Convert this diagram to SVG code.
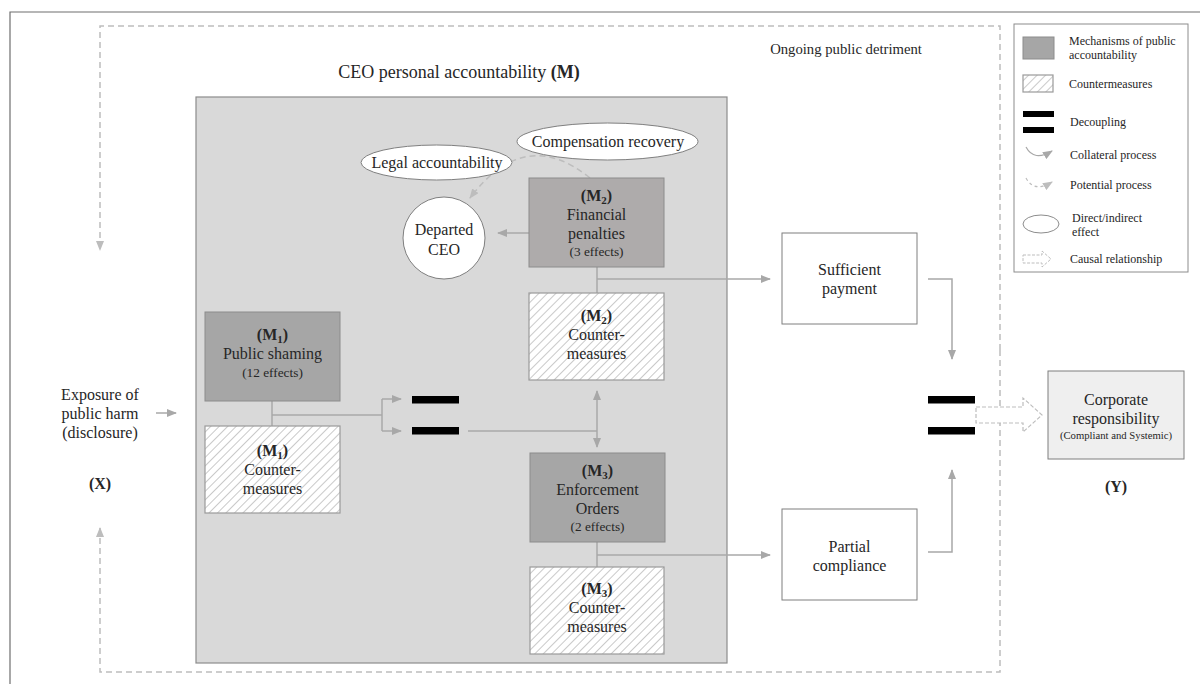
<svg xmlns="http://www.w3.org/2000/svg" width="1200" height="684" viewBox="0 0 1200 684">
  <defs>
    <pattern id="hatch" patternUnits="userSpaceOnUse" width="6" height="6" patternTransform="rotate(45)">
      <rect width="6" height="6" fill="#ffffff"/>
      <line x1="0" y1="0" x2="0" y2="6" stroke="#bcbcbc" stroke-width="1.6"/>
    </pattern>
    <marker id="arr" markerUnits="userSpaceOnUse" markerWidth="10" markerHeight="8" refX="9" refY="4" orient="auto">
      <path d="M0,0 L10,4 L0,8 Z" fill="#a8a8a8"/>
    </marker>
    <marker id="arrD" markerUnits="userSpaceOnUse" markerWidth="10" markerHeight="8" refX="9" refY="4" orient="auto">
      <path d="M0,0 L10,4 L0,8 Z" fill="#bdbdbd"/>
    </marker>
    <marker id="arrS" markerUnits="userSpaceOnUse" markerWidth="10" markerHeight="8" refX="1" refY="4" orient="auto">
      <path d="M10,0 L0,4 L10,8 Z" fill="#a8a8a8"/>
    </marker>
  </defs>
  <style>
    text { font-family: "Liberation Serif", "Times New Roman", serif; fill: #262626; }
    .t { font-family: "Liberation Serif", "Times New Roman", serif; font-size: 16px; text-anchor: middle; }
    .s { font-family: "Liberation Serif", "Times New Roman", serif; font-size: 13.3px; text-anchor: middle; }
    .b { font-weight: bold; }
    .lg { font-family: "Liberation Serif", "Times New Roman", serif; font-size: 12px; }
    .mech { stroke: #8c8c8c; stroke-width: 1; }
    .cm { fill: url(#hatch); stroke: #9a9a9a; stroke-width: 1.2; }
    .box { fill: #ffffff; stroke: #7f7f7f; stroke-width: 1; }
    .bar { fill: #000000; }
    .conn { fill: none; stroke: #a8a8a8; stroke-width: 1.5; }
    .dash { fill: none; stroke: #bdbdbd; stroke-width: 1.5; stroke-dasharray: 6 4; }
    .ell { fill: #ffffff; stroke: #7f7f7f; stroke-width: 1; }
  </style>

  <!-- frame -->
  <rect width="1200" height="684" fill="#ffffff"/>
  <path d="M10,684 V12 H1200" fill="none" stroke="#6e6e6e" stroke-width="1.2"/>

  <!-- feedback loop -->
  <g id="feedback">
    <path class="dash" d="M1000,350 V26 H100 V250" marker-end="url(#arrD)"/>
    <path class="dash" d="M1000,350 V672 H100 V528" marker-end="url(#arrD)"/>
    <text x="846" y="54" font-size="14.7" text-anchor="middle">Ongoing public detriment</text>
  </g>

  <!-- CEO personal accountability container -->
  <g id="container">
    <text x="459" y="78" font-size="18" text-anchor="middle">CEO personal accountability <tspan class="b">(M)</tspan></text>
    <rect x="196" y="97" width="531" height="566" fill="#d9d9d9" stroke="#8c8c8c" stroke-width="1.2"/>
  </g>

  <!-- connectors -->
  <g id="connectors">
    <!-- exposure into container -->
    <line class="conn" x1="156" y1="413" x2="176" y2="413" marker-end="url(#arr)"/>
    <!-- M1 stem and split to decoupling -->
    <line class="conn" x1="272" y1="401" x2="272" y2="426"/>
    <line class="conn" x1="272" y1="415" x2="382" y2="415"/>
    <path class="conn" d="M382,399 V431"/>
    <line class="conn" x1="382" y1="399" x2="401" y2="399" marker-end="url(#arr)"/>
    <line class="conn" x1="382" y1="431" x2="401" y2="431" marker-end="url(#arr)"/>
    <line class="conn" x1="468" y1="431" x2="597" y2="431"/>
    <line class="conn" x1="597" y1="391" x2="597" y2="447" marker-start="url(#arrS)" marker-end="url(#arr)"/>
    <!-- M2 -->
    <line class="conn" x1="597" y1="267" x2="597" y2="293"/>
    <line class="conn" x1="597" y1="279" x2="770" y2="279" marker-end="url(#arr)"/>
    <line class="conn" x1="529" y1="233" x2="498" y2="233" marker-end="url(#arr)"/>
    <path class="dash" d="M590,178 Q525,125 470,198" marker-end="url(#arrD)"/>
    <!-- M3 -->
    <line class="conn" x1="597" y1="542" x2="597" y2="567"/>
    <line class="conn" x1="597" y1="555" x2="770" y2="555" marker-end="url(#arr)"/>
    <!-- outcomes to decoupling -->
    <path class="conn" d="M928,279 H952 V359" marker-end="url(#arr)"/>
    <path class="conn" d="M928,552 H952 V470" marker-end="url(#arr)"/>
  </g>

  <!-- exposure X -->
  <g id="exposure">
    <text class="t" x="100" y="400">Exposure of</text>
    <text class="t" x="100" y="419">public harm</text>
    <text class="t" x="100" y="438">(disclosure)</text>
    <text class="t b" x="100" y="489" font-size="18">(X)</text>
  </g>

  <!-- M1 public shaming -->
  <g id="m1">
    <rect class="mech" x="205" y="312" width="135" height="89" fill="#a6a6a6"/>
    <text class="t b" x="272.5" y="340">(M<tspan font-size="11" dy="3">1</tspan><tspan dy="-3">)</tspan></text>
    <text class="t" x="272.5" y="359">Public shaming</text>
    <text class="s" x="272.5" y="377">(12 effects)</text>
  </g>
  <g id="m1-counter">
    <rect class="cm" x="205" y="426" width="135" height="87"/>
    <text class="t b" x="272.5" y="456">(M<tspan font-size="11" dy="3">1</tspan><tspan dy="-3">)</tspan></text>
    <text class="t" x="272.5" y="475">Counter-</text>
    <text class="t" x="272.5" y="494">measures</text>
  </g>

  <!-- decoupling (inner) -->
  <g id="decoupling-1">
    <rect class="bar" x="412" y="396" width="47" height="7.5"/>
    <rect class="bar" x="412" y="427" width="47" height="7.5"/>
  </g>

  <!-- effects around departed CEO -->
  <g id="departed-ceo">
    <circle cx="444" cy="238" r="41" fill="#ffffff" stroke="#7f7f7f" stroke-width="1"/>
    <text class="t" x="444" y="235">Departed</text>
    <text class="t" x="444" y="255">CEO</text>
  </g>
  <g id="legal">
    <ellipse class="ell" cx="436.5" cy="162.5" rx="75.5" ry="17.5"/>
    <text class="t" x="437" y="168">Legal accountability</text>
  </g>
  <g id="compensation">
    <ellipse class="ell" cx="607.5" cy="141.5" rx="90.5" ry="18.5"/>
    <text class="t" x="608" y="147">Compensation recovery</text>
  </g>

  <!-- M2 financial penalties -->
  <g id="m2">
    <rect class="mech" x="529" y="178" width="135" height="89" fill="#aeabab"/>
    <text class="t b" x="596.5" y="201">(M<tspan font-size="11" dy="3">2</tspan><tspan dy="-3">)</tspan></text>
    <text class="t" x="596.5" y="220">Financial</text>
    <text class="t" x="596.5" y="239">penalties</text>
    <text class="s" x="596.5" y="256">(3 effects)</text>
  </g>
  <g id="m2-counter">
    <rect class="cm" x="529" y="293" width="135" height="87"/>
    <text class="t b" x="596.5" y="321">(M<tspan font-size="11" dy="3">2</tspan><tspan dy="-3">)</tspan></text>
    <text class="t" x="596.5" y="340">Counter-</text>
    <text class="t" x="596.5" y="359">measures</text>
  </g>

  <!-- M3 enforcement orders -->
  <g id="m3">
    <rect class="mech" x="530" y="453" width="135" height="89" fill="#a6a6a6"/>
    <text class="t b" x="597.5" y="476">(M<tspan font-size="11" dy="3">3</tspan><tspan dy="-3">)</tspan></text>
    <text class="t" x="597.5" y="495">Enforcement</text>
    <text class="t" x="597.5" y="514">Orders</text>
    <text class="s" x="597.5" y="531">(2 effects)</text>
  </g>
  <g id="m3-counter">
    <rect class="cm" x="530" y="567" width="134" height="87"/>
    <text class="t b" x="597" y="594">(M<tspan font-size="11" dy="3">3</tspan><tspan dy="-3">)</tspan></text>
    <text class="t" x="597" y="613">Counter-</text>
    <text class="t" x="597" y="632">measures</text>
  </g>

  <!-- outcomes -->
  <g id="sufficient-payment">
    <rect class="box" x="782" y="233" width="135" height="91"/>
    <text class="t" x="849.5" y="275">Sufficient</text>
    <text class="t" x="849.5" y="294">payment</text>
  </g>
  <g id="partial-compliance">
    <rect class="box" x="782" y="509" width="135" height="91"/>
    <text class="t" x="849.5" y="552">Partial</text>
    <text class="t" x="849.5" y="571">compliance</text>
  </g>

  <!-- decoupling (outer) -->
  <g id="decoupling-2">
    <rect class="bar" x="928" y="396" width="47" height="7.5"/>
    <rect class="bar" x="928" y="427" width="47" height="7.5"/>
  </g>

  <!-- causal relationship arrow -->
  <g id="causal">
    <path d="M976,407 H1023 V398 L1042,415 L1023,432 V423 H976 Z" fill="#ffffff" stroke="#bdbdbd" stroke-width="1.2" stroke-dasharray="4 2"/>
  </g>

  <!-- corporate responsibility Y -->
  <g id="corporate">
    <rect x="1048" y="371" width="136" height="88" fill="#efefef" stroke="#7f7f7f" stroke-width="1"/>
    <text class="t" x="1116" y="405">Corporate</text>
    <text class="t" x="1116" y="424">responsibility</text>
    <text x="1116" y="439" font-size="10.7" text-anchor="middle">(Compliant and Systemic)</text>
    <text class="t b" x="1116" y="492" font-size="18">(Y)</text>
  </g>

  <!-- legend -->
  <g id="legend">
    <rect x="1014" y="24" width="174" height="248" fill="#ffffff" stroke="#8c8c8c" stroke-width="1"/>
    <rect x="1023" y="37" width="31" height="22" fill="#a6a6a6" stroke="#8c8c8c" stroke-width="1"/>
    <text class="lg" x="1069" y="45">Mechanisms of public</text>
    <text class="lg" x="1069" y="59">accountability</text>
    <rect class="cm" x="1023" y="75" width="30" height="17"/>
    <text class="lg" x="1069" y="88">Countermeasures</text>
    <rect class="bar" x="1023" y="111" width="31" height="6"/>
    <rect class="bar" x="1023" y="127" width="31" height="6"/>
    <text class="lg" x="1070" y="126">Decoupling</text>
    <path d="M1026,147 Q1034,162 1052,151" fill="none" stroke="#a8a8a8" stroke-width="1.2" marker-end="url(#arr)"/>
    <text class="lg" x="1070" y="159">Collateral process</text>
    <path d="M1026,178 Q1034,193 1052,182" fill="none" stroke="#bdbdbd" stroke-width="1.2" stroke-dasharray="3 3" marker-end="url(#arrD)"/>
    <text class="lg" x="1070" y="189">Potential process</text>
    <ellipse cx="1041" cy="224" rx="18" ry="9" fill="#ffffff" stroke="#8c8c8c" stroke-width="1"/>
    <text class="lg" x="1072" y="222">Direct/indirect</text>
    <text class="lg" x="1072" y="236">effect</text>
    <path d="M1023,255 H1042 V251 L1051,259 L1042,267 V263 H1023 Z" fill="#ffffff" stroke="#bdbdbd" stroke-width="1" stroke-dasharray="3 1.5"/>
    <text class="lg" x="1070" y="263">Causal relationship</text>
  </g>
</svg>
